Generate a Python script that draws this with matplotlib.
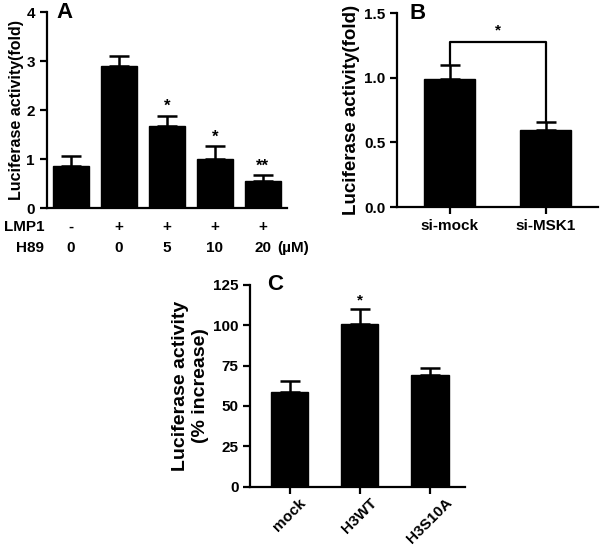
import matplotlib
matplotlib.use("Agg")
import matplotlib.pyplot as plt
import numpy as np

plt.rcParams['font.family'] = ['Liberation Sans', 'DejaVu Sans']
plt.rcParams['font.weight'] = 'bold'

# panel A
a_vals = [0.86, 2.90, 1.68, 1.01, 0.55]
a_err = [0.21, 0.20, 0.21, 0.26, 0.12]
a_lmp1 = ['-', '+', '+', '+', '+']
a_h89 = ['0', '0', '5', '10', '20']
a_stars = ['', '', '*', '*', '**']

# panel B
b_names = ['si-mock', 'si-MSK1']
b_vals = [0.99, 0.60]
b_err = [0.11, 0.06]

# panel C
c_names = ['mock', 'H3WT', 'H3S10A']
c_vals = [58.5, 100.5, 69.0]
c_err = [7.0, 9.5, 4.5]
c_stars = ['', '*', '']


def style(ax, fs=11):
	for s in ['top', 'right']:
		ax.spines[s].set_visible(False)
	for s in ['left', 'bottom']:
		ax.spines[s].set_linewidth(1.6)
	ax.tick_params(width=1.6, length=5, labelsize=fs)
	for t in ax.get_yticklabels():
		t.set_fontweight('bold')


def bars(ax, vals, err, width):
	x = np.arange(len(vals))
	ax.bar(x, vals, width=width, color='black', edgecolor='black')
	ax.errorbar(x, vals, yerr=[np.zeros(len(vals)), err], fmt='none',
		ecolor='black', elinewidth=1.8, capsize=7, capthick=1.8)
	return x


fig = plt.figure(figsize=(6, 5.48), dpi=100)

# A
axA = fig.add_axes([0.078, 0.620, 0.400, 0.358])
x = bars(axA, a_vals, a_err, 0.75)
axA.set_xlim(-0.5, 4.5)
axA.set_ylim(0, 4)
axA.set_yticks([0, 1, 2, 3, 4])
axA.set_xticks([])
style(axA)
axA.set_ylabel('Luciferase activity(fold)', fontsize=11.5, fontweight='bold', labelpad=2)
for i in range(len(a_vals)):
	if a_stars[i]:
		axA.text(x[i], a_vals[i] + a_err[i] + 0.03, a_stars[i], ha='center', va='bottom', fontsize=12)
	axA.text(x[i], -0.38, a_lmp1[i], ha='center', va='center', fontsize=11, clip_on=False)
	axA.text(x[i], -0.82, a_h89[i], ha='center', va='center', fontsize=11, clip_on=False)
axA.text(x[-1] + 0.3, -0.82, '(\u00b5M)', ha='left', va='center', fontsize=11, clip_on=False)
axA.text(-0.55, -0.38, 'LMP1', ha='right', va='center', fontsize=11, clip_on=False)
axA.text(-0.55, -0.82, 'H89', ha='right', va='center', fontsize=11, clip_on=False)
axA.text(0.04, 1.0, 'A', transform=axA.transAxes, fontsize=16, fontweight='bold', va='center')

# B
axB = fig.add_axes([0.662, 0.622, 0.335, 0.354])
x = bars(axB, b_vals, b_err, 0.53)
axB.set_xlim(-0.55, 1.55)
axB.set_ylim(0, 1.5)
axB.set_yticks([0, 0.5, 1.0, 1.5])
axB.set_yticklabels(['0.0', '0.5', '1.0', '1.5'])
axB.set_xticks(x)
axB.set_xticklabels(b_names, fontsize=13, fontweight='bold')
style(axB)
axB.tick_params(axis='y', labelsize=11)
axB.set_ylabel('Luciferase activity(fold)', fontsize=13.5, fontweight='bold', labelpad=3)
top = 1.28
axB.plot([x[0], x[0], x[1], x[1]], [b_vals[0] + b_err[0], top, top, b_vals[1] + b_err[1]],
	color='black', lw=1.6)
axB.text((x[0] + x[1]) / 2, top + 0.03, '*', ha='center', va='bottom', fontsize=11)
axB.text(0.06, 1.0, 'B', transform=axB.transAxes, fontsize=16, fontweight='bold', va='center')

# C
axC = fig.add_axes([0.417, 0.112, 0.358, 0.368])
x = bars(axC, c_vals, c_err, 0.53)
axC.set_xlim(-0.56, 2.5)
axC.set_ylim(0, 125)
axC.set_yticks([0, 25, 50, 75, 100, 125])
axC.set_xticks(x)
axC.set_xticklabels(c_names, fontsize=11, fontweight='bold', rotation=45, ha='center')
style(axC)
axC.tick_params(axis='x', pad=1.5)
axC.set_ylabel('Luciferase activity\n(% increase)', fontsize=14, fontweight='bold', labelpad=3)
for i in range(len(c_vals)):
	if c_stars[i]:
		axC.text(x[i], c_vals[i] + c_err[i] + 1, c_stars[i], ha='center', va='bottom', fontsize=11)
axC.text(0.08, 1.0, 'C', transform=axC.transAxes, fontsize=16, fontweight='bold', va='center')

fig.savefig('out.png', dpi=100)
